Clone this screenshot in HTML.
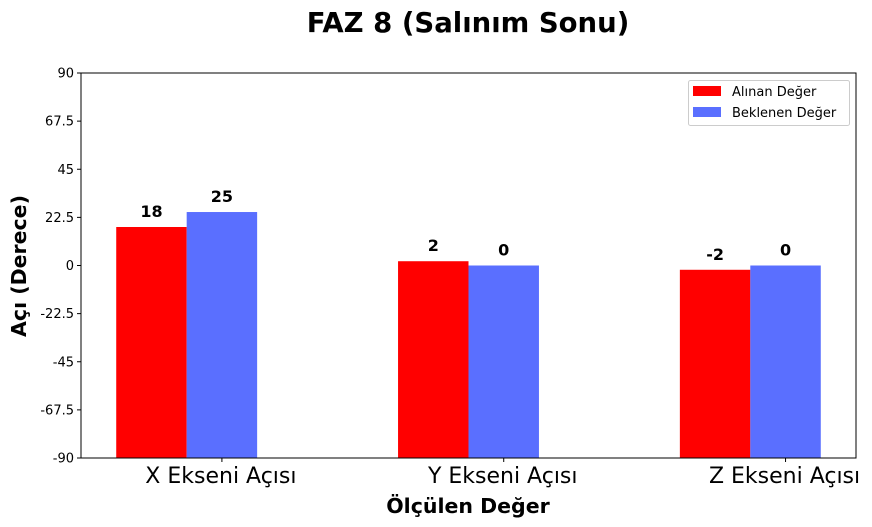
<!DOCTYPE html>
<html><head><meta charset="utf-8"><style>
body{margin:0;background:#fff;}
svg{display:block;font-family:"DejaVu Sans","Liberation Sans",sans-serif;}
</style></head><body>
<svg id="c" width="872" height="527">
<text x="468" y="32" text-anchor="middle" font-size="27.5" font-weight="bold">FAZ 8 (Salınım Sonu)</text>
<g id="g"></g>
</svg>
<script>
const categories=["X Ekseni Açısı","Y Ekseni Açısı","Z Ekseni Açısı"];
const measured=[18,2,-2];
const expected=[25,0,0];
const yTicks=[-90,-67.5,-45,-22.5,0,22.5,45,67.5,90];
const L=81,R=856,T=73,B=458;
const xs=v=>L+(v+0.375)/2.75*(R-L);
const ys=v=>B-(v+90)/180*(B-T);
const NS="http://www.w3.org/2000/svg";
const g=document.getElementById('g');
function mk(t,a,txt){const e=document.createElementNS(NS,t);for(const k in a)e.setAttribute(k,a[k]);if(txt!==undefined)e.textContent=txt;g.appendChild(e);return e;}
const bw=0.25;
categories.forEach((c,i)=>{
  [[measured,'#ff0000',-bw/2,'measured'],[expected,'#5a6fff',bw/2,'expected']].forEach(([arr,col,off,nm])=>{
    const v=arr[i];
    const x0=xs(i+off-bw/2),x1=xs(i+off+bw/2);
    const y0=ys(v),y1=ys(-90);
    const r=mk('rect',{x:x0,y:y0,width:x1-x0,height:y1-y0,fill:col});
    
    
    const t=mk('text',{x:(x0+x1)/2,y:y0-10,'text-anchor':'middle','font-size':16,'font-weight':'bold'},String(v));
    
    
  });
  const tx=xs(i+0.125);
  mk('line',{x1:tx,x2:tx,y1:B,y2:B+4,stroke:'#000'});
  const lt=mk('text',{x:tx-1,y:B+25,'text-anchor':'middle','font-size':22},c);
  
  
});
yTicks.forEach(v=>{
  const y=ys(v);
  mk('line',{x1:L-4,x2:L,y1:y,y2:y,stroke:'#000'});
  const t=mk('text',{x:L-7,y:y+4.5,'text-anchor':'end','font-size':13},String(v));
  
  
});
const fr=mk('rect',{x:L,y:T,width:R-L,height:B-T,fill:'none',stroke:'#000'});


</script>
<svg style="position:absolute;left:0;top:0" width="872" height="527">
<text x="468" y="513" text-anchor="middle" font-size="20.5" font-weight="bold" font-family="DejaVu Sans,sans-serif">Ölçülen Değer</text>
<text transform="translate(26,266) rotate(-90)" text-anchor="middle" font-size="20.5" font-weight="bold" font-family="DejaVu Sans,sans-serif">Açı (Derece)</text>
<g font-family="DejaVu Sans,sans-serif" font-size="13">
<rect x="688.5" y="80.5" width="161" height="45" rx="2" fill="#fff" stroke="#ccc"/>
<rect x="693" y="86" width="28" height="10" fill="#ff0000"/>
<text x="732" y="96">Alınan Değer</text>
<rect x="693" y="107" width="28" height="10" fill="#5a6fff"/>
<text x="732" y="117">Beklenen Değer</text>
</g>
</svg>
</body></html>
